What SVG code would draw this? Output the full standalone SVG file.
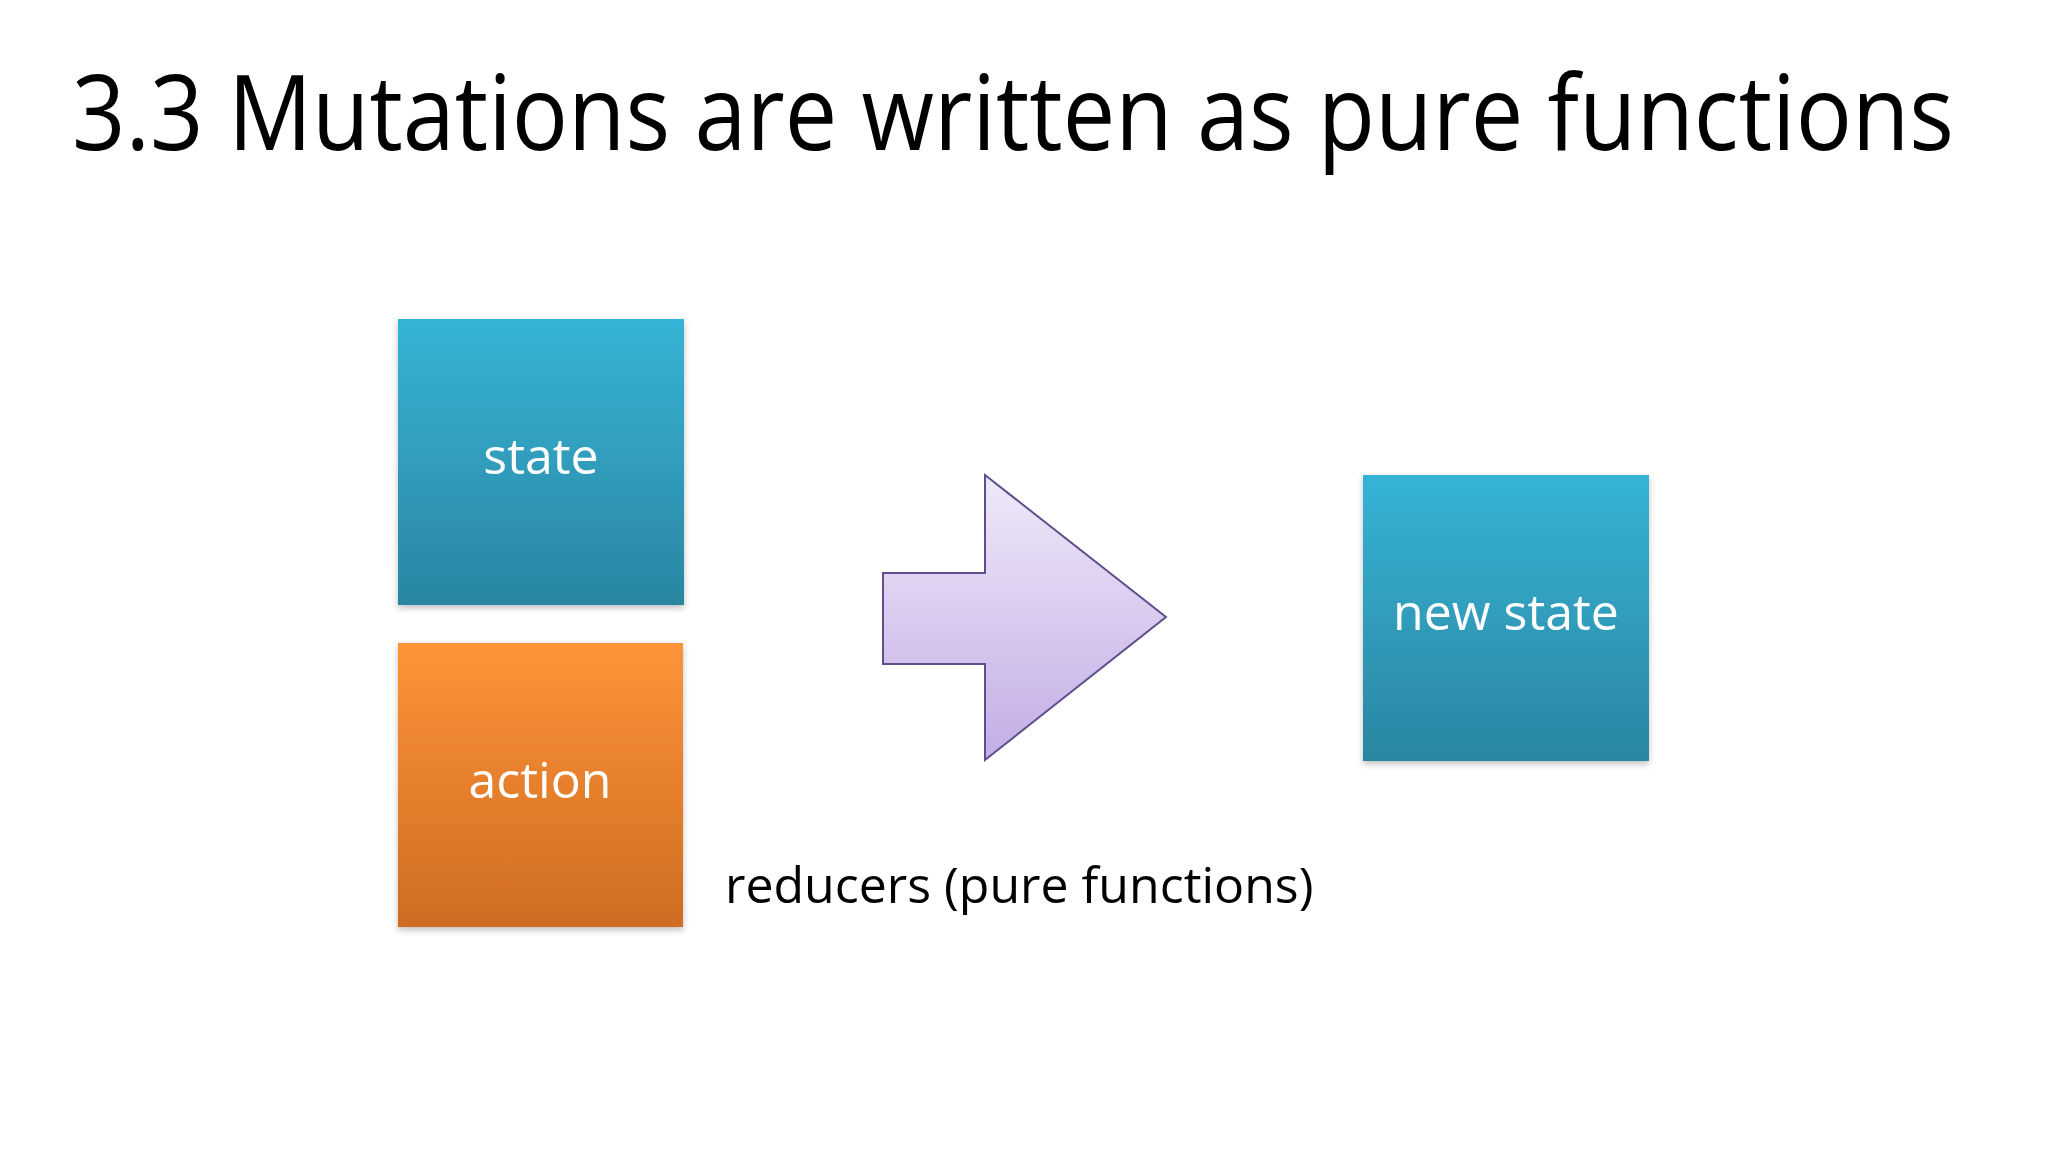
<svg xmlns="http://www.w3.org/2000/svg" width="2048" height="1152" viewBox="0 0 2048 1152">
<style>
.title{font-family:"Open Sans","Noto Sans","Liberation Sans",sans-serif;font-size:104px;fill:#000}
.lbl{font-family:"Open Sans","Noto Sans","Liberation Sans",sans-serif;font-size:50px;fill:#fff;text-anchor:middle}
.cap{font-family:"Open Sans","Noto Sans","Liberation Sans",sans-serif;font-size:50px;fill:#000}
</style>
<defs>
<linearGradient id="blue" x1="0" y1="0" x2="0" y2="1"><stop offset="0" stop-color="#36b3d6"/><stop offset="1" stop-color="#2a86a1"/></linearGradient>
<linearGradient id="orange" x1="0" y1="0" x2="0" y2="1"><stop offset="0" stop-color="#fd9438"/><stop offset="1" stop-color="#cf6c21"/></linearGradient>
<linearGradient id="purple" x1="0" y1="0" x2="0" y2="1"><stop offset="0" stop-color="#efe9f8"/><stop offset="1" stop-color="#c4ade6"/></linearGradient>
<filter id="sh" x="-5%" y="-5%" width="110%" height="115%"><feDropShadow dx="0" dy="3" stdDeviation="3" flood-color="#000" flood-opacity="0.25"/></filter>
</defs>
<rect width="2048" height="1152" fill="#fff"/>
<text class="title" transform="translate(72,150) scale(0.9,1)" x="0" y="0">3.3 Mutations are written as pure functions</text>
<g id="state">
<rect x="398" y="319" width="286" height="286" fill="url(#blue)" filter="url(#sh)"/>
<text class="lbl" x="541" y="474">state</text>
</g>
<g id="action">
<rect x="398" y="643" width="285" height="284" fill="url(#orange)" filter="url(#sh)"/>
<text class="lbl" x="540" y="798">action</text>
</g>
<g id="reducers">
<polygon points="883,573 985,573 985,475 1166,617 985,760 985,664 883,664" fill="url(#purple)" stroke="#5d4f8c" stroke-width="2" stroke-linejoin="miter"/>
<text class="cap" x="725" y="903">reducers (pure functions)</text>
</g>
<g id="new-state">
<rect x="1363" y="475" width="286" height="286" fill="url(#blue)" filter="url(#sh)"/>
<text class="lbl" x="1506" y="630">new state</text>
</g>
<g id="connectors"/>
</svg>
